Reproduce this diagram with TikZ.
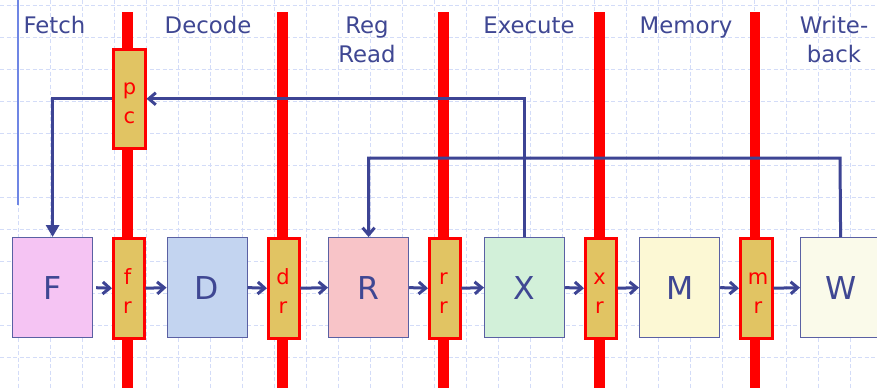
\documentclass[tikz,border=0pt]{standalone}
\usepackage{fontspec}
\setmainfont{DejaVu Sans}
\usetikzlibrary{arrows.meta}
\definecolor{ink}{HTML}{3D4494}
\definecolor{txt}{HTML}{3F4793}
\definecolor{gridc}{HTML}{D3DCF8}
\definecolor{leftline}{HTML}{6F86E4}
\definecolor{regfill}{HTML}{E1C463}
\definecolor{boxline}{HTML}{5A60A3}
\definecolor{fillF}{HTML}{F5C4F3}
\definecolor{fillD}{HTML}{C3D4F0}
\definecolor{fillR}{HTML}{F8C4C8}
\definecolor{fillX}{HTML}{D2F0D9}
\definecolor{fillM}{HTML}{FCF8D4}
\definecolor{fillW}{HTML}{FAFAEA}
\begin{document}
\begin{tikzpicture}[x=1pt,y=-1pt,
  gridline/.style={gridc, line width=1pt, dash pattern=on 4pt off 2.5pt},
  stagelabel/.style={text=txt, font=\fontsize{22.8}{29}\selectfont, align=center, inner sep=0pt, anchor=base},
  stagebox/.style={draw=boxline, line width=1.2pt, minimum width=80pt, minimum height=100pt, inner sep=0pt, text=txt, font=\fontsize{31.5}{31.5}\selectfont, anchor=north west},
  regbox/.style={draw=red, line width=2.5pt, fill=regfill, minimum width=31pt, minimum height=100pt, inner sep=0pt, anchor=north west},
  reglabel/.style={text=red, font=\fontsize{21}{29}\selectfont, align=center, inner sep=0pt, anchor=base},
  bar/.style={red, line width=10.5pt},
  conn/.style={ink, line width=3pt},
  barb/.style={-{Straight Barb[length=7pt,width=12pt]}}
]
\useasboundingbox (0,0) rectangle (877,388);
\clip (0,0) rectangle (877,388);
\fill[white] (0,0) rectangle (877,388);
% grid
\foreach \i in {0,...,27} \draw[gridline] ({18+32*\i},0) -- ({18+32*\i},388);
\foreach \j in {0,...,12} \draw[gridline] (0,{5+32*\j}) -- (877,{5+32*\j});
\draw[leftline, line width=2pt] (18,0) -- (18,205);
% pipeline bars
\foreach \x in {127.5,282.5,443.5,599.5,755} \draw[bar] (\x,12) -- (\x,388);
% headers
\node[stagelabel] (hF) at (54.5,33) {Fetch};
\node[stagelabel] (hD) at (208,33) {Decode};
\node[stagelabel] (hR) at (367,62) {Reg\\Read};
\node[stagelabel] (hX) at (529,33) {Execute};
\node[stagelabel] (hM) at (686,33) {Memory};
\node[stagelabel] (hW) at (834,62) {Write-\\back};
% registers
\node[regbox, minimum width=32pt, minimum height=99pt] (pc) at (112,48) {};
\node[regbox] (fr) at (112,237) {};
\node[regbox] (dr) at (267,237) {};
\node[regbox] (rr) at (428,237) {};
\node[regbox] (xr) at (584,237) {};
\node[regbox, minimum width=32pt] (mr) at (739,237) {};
\node[reglabel] (tpc) at (129.5,123) {p\\c};
\node[reglabel] (tfr) at (127.5,313) {f\\r};
\node[reglabel] (tdr) at (283,313) {d\\r};
\node[reglabel] (trr) at (443.5,313) {r\\r};
\node[reglabel] (txr) at (599.5,313) {x\\r};
\node[reglabel] (tmr) at (758,313) {m\\r};
% stages
\node[stagebox, fill=fillF] (F) at (12,237) {F};
\node[stagebox, fill=fillD] (D) at (166.5,237) {D};
\node[stagebox, fill=fillR] (R) at (328,237) {R};
\node[stagebox, fill=fillX] (X) at (484,237) {X};
\node[stagebox, fill=fillM] (M) at (639,237) {M};
\node[stagebox, fill=fillW] (W) at (800,237) {W};
% connectors
\draw[conn, barb, shorten <=3pt] (F.east) -- (fr.west);
\draw[conn, barb] (fr.east) -- (D.west);
\draw[conn, barb] (D.east) -- (dr.west);
\draw[conn, barb] (dr.east) -- (R.west);
\draw[conn, barb] (R.east) -- (rr.west);
\draw[conn, barb] (rr.east) -- (X.west);
\draw[conn, barb] (X.east) -- (xr.west);
\draw[conn, barb] (xr.east) -- (M.west);
\draw[conn, barb] (M.east) -- (mr.west);
\draw[conn, barb] (mr.east) -- (W.west);
\draw[conn, barb] (X.north) |- (pc.east);
\draw[conn, -{Triangle[length=12pt,width=13pt]}] (pc.west) -| (F.north);
\coordinate (wb) at (840,158);
\draw[conn, barb] (W.north) -- (wb) -| (R.north);
\end{tikzpicture}
\end{document}
